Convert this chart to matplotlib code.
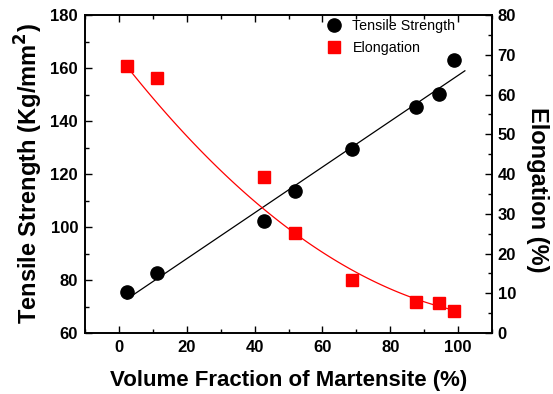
"""
Tensile strength and elongation vs. volume fraction of martensite.
Saves out.png.
"""

import matplotlib.pyplot as plt
import numpy as np
from matplotlib.ticker import MultipleLocator


plt.rcParams["font.family"] = ["Liberation Sans", "DejaVu Sans"]

# data
fraction = [2.4, 11.2, 42.8, 51.9, 68.7, 87.6, 94.4, 98.8]
strength = [75.5, 82.6, 102.3, 113.6, 129.4, 145.3, 150.2, 163.0]
elongation = [67.2, 64.2, 39.2, 25.2, 13.3, 7.8, 7.5, 5.5]

# quadratic fit drawn for elongation (coefficients)
elong_fit = [0.004515, -1.0924, 69.6]
strength_fit_end = 102
elong_fit_end = 100


def main() -> None:
    fig = plt.figure(figsize=(5.53, 3.94), dpi=100)
    ax = fig.add_axes([0.1537, 0.1548, 0.736, 0.807])
    ax2 = ax.twinx()

    # fitted lines
    x_lin = np.linspace(fraction[0], strength_fit_end, 50)
    k, b = np.polyfit(fraction, strength, 1)
    ax.plot(x_lin, k * x_lin + b, color="black", lw=0.9, zorder=2)

    x_quad = np.linspace(fraction[0], elong_fit_end, 100)
    ax2.plot(x_quad, np.polyval(elong_fit, x_quad), color="red", lw=0.9,
             zorder=2)

    h1, = ax.plot(fraction, strength, "o", color="black", ms=9.5,
                  label="Tensile Strength", zorder=3)
    h2, = ax2.plot(fraction, elongation, "s", color="red", ms=8,
                   label="Elongation", zorder=3)

    ax.set_xlim(-10, 110)
    ax.set_ylim(60, 180)
    ax2.set_ylim(0, 80)

    ax.xaxis.set_major_locator(MultipleLocator(20))
    ax.xaxis.set_minor_locator(MultipleLocator(10))
    ax.yaxis.set_major_locator(MultipleLocator(20))
    ax.yaxis.set_minor_locator(MultipleLocator(10))
    ax2.yaxis.set_major_locator(MultipleLocator(10))
    ax2.yaxis.set_minor_locator(MultipleLocator(5))

    ax.tick_params(which="both", direction="in", top=True, right=False,
                   width=1.0)
    ax.tick_params(which="major", length=5, labelsize=12, pad=5)
    ax.tick_params(which="minor", length=3)
    ax2.tick_params(which="both", direction="in", width=1.0)
    ax2.tick_params(which="major", length=5, labelsize=12, pad=4)
    ax2.tick_params(which="minor", length=3)

    for lab in ax.get_xticklabels() + ax.get_yticklabels() + ax2.get_yticklabels():
        lab.set_fontweight("bold")

    for a in (ax, ax2):
        for sp in a.spines.values():
            sp.set_linewidth(1.2)

    ax.set_xlabel("Volume Fraction of Martensite (%)", fontsize=16,
                  fontweight="bold", labelpad=11)
    ax.set_ylabel("Tensile Strength (Kg/mm$\\mathbf{^2}$)", fontsize=17,
                  fontweight="bold", labelpad=4)
    ax2.set_ylabel("Elongation (%)", fontsize=17, fontweight="bold",
                   rotation=270, labelpad=20)
    ax2.yaxis.set_label_coords(1.14, 0.45)

    ax.legend(handles=[h1, h2], loc="upper right", frameon=False,
              fontsize=10.3, handlelength=1.0, handletextpad=0.8,
              borderaxespad=0.3, labelspacing=0.55,
              bbox_to_anchor=(0.935, 1.02))

    fig.savefig("out.png", dpi=100)
    plt.close(fig)


if __name__ == "__main__":
    main()
